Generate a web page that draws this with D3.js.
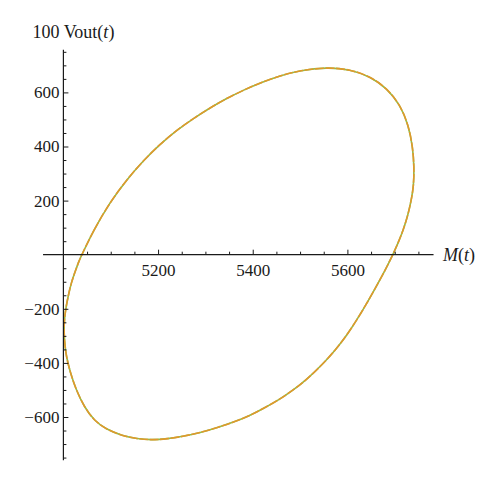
<!DOCTYPE html>
<html>
<head>
<meta charset="utf-8">
<script src="https://cdn.jsdelivr.net/npm/d3@7"></script>
<style>
  body { margin: 0; background: #fff; }
  text { font-family: "Liberation Serif", "DejaVu Serif", serif; fill: #1a1a1a; }
</style>
</head>
<body>
<div id="chart"></div>
<script>
// values: M(t) and 100 Vout(t) going round the loop
var mValues = [5039, 5063, 5098, 5134, 5169, 5204, 5239, 5275, 5310, 5345, 5380, 5415,
  5458, 5500, 5556, 5606, 5648, 5683, 5711, 5729, 5738, 5741, 5740, 5735, 5728, 5718,
  5707, 5696, 5680, 5657, 5639, 5620, 5599, 5575, 5546, 5513, 5486, 5455, 5424, 5393,
  5363, 5327, 5291, 5255, 5219, 5187, 5156, 5122, 5090, 5065, 5044, 5026, 5015, 5006,
  5002, 5001, 5004, 5010, 5017, 5026, 5033];
var voutValues = [0, 88, 193, 278, 348, 408, 460, 504, 543, 578, 608, 635,
  662, 681, 693, 685, 659, 616, 555, 480, 398, 324, 254, 202, 147, 91,
  43, 0, -57, -130, -186, -241, -297, -352, -408, -463, -500, -537, -567, -596,
  -617, -638, -657, -671, -681, -685, -681, -668, -645, -613, -563, -496, -437, -378,
  -315, -260, -208, -153, -101, -57, -23];

// ticks
var xMajorTicks = [5200, 5400, 5600];
var xMinorTicks = [5050, 5100, 5150, 5250, 5300, 5350, 5450, 5500, 5550, 5650, 5700, 5750];
var yMajorTicks = [-600, -400, -200, 200, 400, 600];
var yMinorTicks = [-750, -700, -650, -550, -500, -450, -350, -300, -250, -150, -100, -50,
  50, 100, 150, 250, 300, 350, 450, 500, 550, 650, 700, 750];
var xRange = [4957, 5782];
var yRange = [-760, 758];

var width = 500, height = 485;

var svg = d3.select("#chart")
    .append("svg")
    .attr("width", width)
    .attr("height", height);

// scales (origin of the axes sits at M = 5000, Vout = 0)
var xScale = d3.scaleLinear().domain([5000, 5600]).range([63.4, 347.4]);
var yScale = d3.scaleLinear().domain([0, 600]).range([254.7, 92.4]);

// the loop itself, green underneath, orange on top
// basis curve smooths out the jitter of the hand-read points
var pts = mValues.map(function(m, i) { return [m, voutValues[i]]; });
var line = d3.line()
    .x(function(d) { return xScale(d[0]); })
    .y(function(d) { return yScale(d[1]); })
    .curve(d3.curveBasisClosed);

svg.append("path")
    .attr("d", line(pts))
    .attr("fill", "none")
    .attr("stroke", "#8cbf4a")
    .attr("stroke-width", 1.6);

svg.append("path")
    .attr("d", line(pts))
    .attr("fill", "none")
    .attr("stroke", "#e0982c")
    .attr("stroke-width", 1.6)
    .attr("stroke-dasharray", "9 1.5");

// x axis
var xAxis = d3.axisBottom(xScale)
    .tickValues(xMajorTicks)
    .tickSizeInner(-5)
    .tickSizeOuter(0)
    .tickPadding(9)
    .tickFormat(d3.format("d"));
var xMinor = d3.axisBottom(xScale)
    .tickValues(xMinorTicks)
    .tickSizeInner(-3)
    .tickSizeOuter(0)
    .tickFormat("");

var gx = svg.append("g").attr("transform", `translate(0, ${yScale(0)})`);
gx.append("g").call(xMinor);
gx.append("g").call(xAxis);
gx.selectAll(".domain").remove();
gx.append("line")
    .attr("x1", xScale(xRange[0]))
    .attr("x2", xScale(xRange[1]))
    .attr("stroke", "#1a1a1a")
    .attr("stroke-width", 1.2);

// y axis
var yAxis = d3.axisLeft(yScale)
    .tickValues(yMajorTicks)
    .tickSizeInner(-5)
    .tickSizeOuter(0)
    .tickPadding(4)
    .tickFormat(d3.format("d"));
var yMinor = d3.axisLeft(yScale)
    .tickValues(yMinorTicks)
    .tickSizeInner(-3)
    .tickSizeOuter(0)
    .tickFormat("");

var gy = svg.append("g").attr("transform", `translate(${xScale(5000)}, 0)`);
gy.append("g").call(yMinor);
gy.append("g").call(yAxis);
gy.selectAll(".domain").remove();
gy.append("line")
    .attr("y1", yScale(yRange[0]))
    .attr("y2", yScale(yRange[1]))
    .attr("stroke", "#1a1a1a")
    .attr("stroke-width", 1.2);

svg.selectAll(".tick line").attr("stroke", "#1a1a1a").attr("stroke-width", 1);
svg.selectAll(".tick text")
    .attr("font-family", "Liberation Serif, DejaVu Serif, serif")
    .attr("font-size", 17)
    .attr("fill", "#1a1a1a");

// axis labels
var xLab = svg.append("text")
    .attr("x", 443)
    .attr("y", 260.5)
    .attr("font-size", 18);
xLab.append("tspan").attr("font-style", "italic").text("M");
xLab.append("tspan").text("(");
xLab.append("tspan").attr("font-style", "italic").text("t");
xLab.append("tspan").text(")");

var yLab = svg.append("text")
    .attr("x", 32.5)
    .attr("y", 37.5)
    .attr("font-size", 18);
yLab.append("tspan").text("100 Vout(");
yLab.append("tspan").attr("font-style", "italic").text("t");
yLab.append("tspan").text(")");
</script>
</body>
</html>
